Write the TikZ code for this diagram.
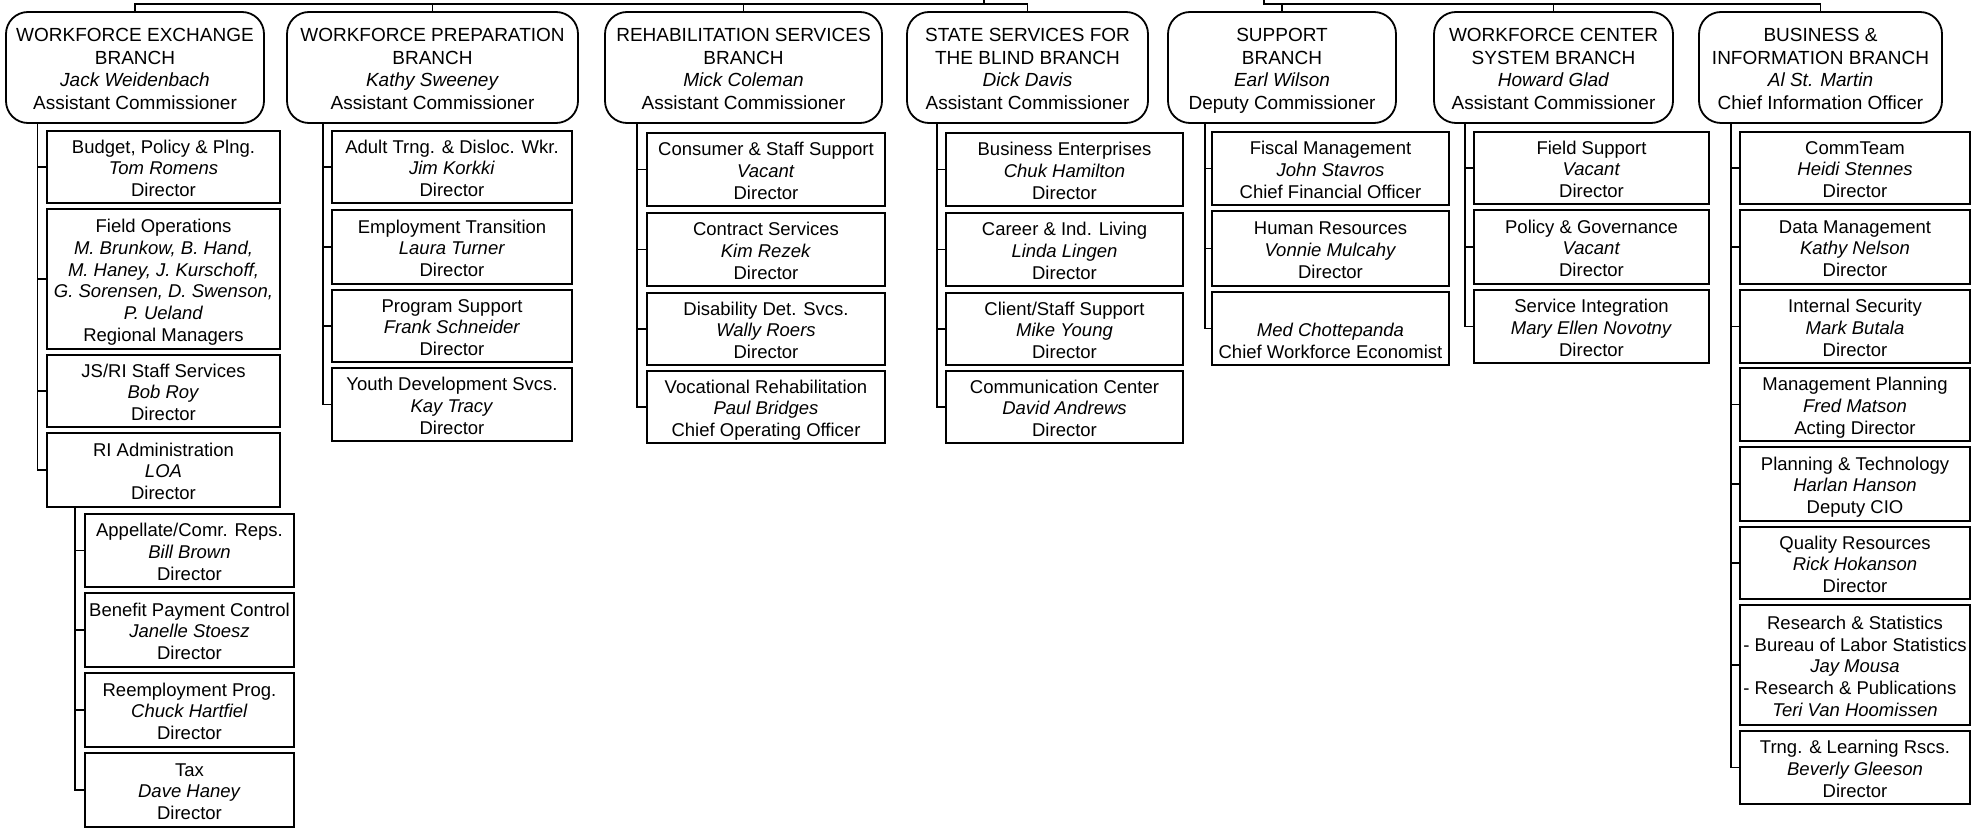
\documentclass[tikz,border=0pt]{standalone}
\usepackage{fontspec}
\setmainfont{Liberation Sans}
\usetikzlibrary{calc}
\tikzset{
  conn/.style={line width=1.7pt},
  branchbox/.style={draw, line width=1.8pt, rounded corners=22pt, align=center, inner sep=0pt,
    font=\fontsize{19}{22.5}\selectfont},
  unitbox/.style={draw, line width=1.7pt, align=center, inner sep=0pt,
    font=\fontsize{18.5}{21.8}\selectfont},
}
\newcommand\UnitBox[6]{\node[unitbox, minimum width={(#4-#2)*1pt}, minimum height={(#5-#3)*1pt}] (#1) at ({(#2+#4)/2},{(#3+#5)/2}) {\rule{0pt}{22.5pt}#6\strut};}
\newcommand\BranchBox[6]{\node[branchbox, minimum width={(#4-#2)*1pt}, minimum height={(#5-#3)*1pt}] (#1) at ({(#2+#4)/2},{(#3+#5)/2}) {\rule{0pt}{22.5pt}#6\strut};}
\begin{document}
\begin{tikzpicture}[x=1pt,y=-1pt]
\fill[white] (0,0) rectangle (1972,829);
\useasboundingbox (0,0) rectangle (1972,829);

% ---------- branch boxes ----------
\BranchBox{we}{6}{12}{264}{123}{WORKFORCE EXCHANGE\\BRANCH\\\textit{Jack Weidenbach}\\Assistant Commissioner}
\BranchBox{wp}{287}{12}{578}{123}{WORKFORCE PREPARATION\\BRANCH\\\textit{Kathy Sweeney}\\Assistant Commissioner}
\BranchBox{rehab}{605}{12}{882}{123}{REHABILITATION SERVICES\\BRANCH\\\textit{Mick Coleman}\\Assistant Commissioner}
\BranchBox{blind}{907}{12}{1148}{123}{STATE SERVICES FOR\\THE BLIND BRANCH\\\textit{Dick Davis}\\Assistant Commissioner}
\BranchBox{support}{1168}{12}{1396}{123}{SUPPORT\\BRANCH\\\textit{Earl Wilson}\\Deputy Commissioner}
\BranchBox{wfc}{1434}{12}{1673}{123}{WORKFORCE CENTER\\SYSTEM BRANCH\\\textit{Howard Glad}\\Assistant Commissioner}
\BranchBox{bi}{1699}{12}{1942}{123}{BUSINESS \&\\INFORMATION BRANCH\\\textit{Al St. Martin}\\Chief Information Officer}

% ---------- top connectors ----------
\coordinate (hL) at (0,4);
\coordinate (upL) at (984,0);
\coordinate (upR) at (1264,0);
\draw[conn] (we.north) -- (we.north |- hL) -- (blind.north |- hL) -- (blind.north);
\draw[conn] (wp.north) -- (wp.north |- hL);
\draw[conn] (rehab.north) -- (rehab.north |- hL);
\draw[conn] (upL) -- (upL |- hL);
\draw[conn] (upR) -- (upR |- hL) -- (bi.north |- hL) -- (bi.north);
\draw[conn] (support.north) -- (support.north |- hL);
\draw[conn] (wfc.north) -- (wfc.north |- hL);

% ---------- Workforce Exchange ----------
\UnitBox{bud}{47}{131}{280}{203}{Budget, Policy \& Plng.\\\textit{Tom Romens}\\Director}
\UnitBox{fo}{47}{209}{280}{349}{Field Operations\\\textit{M. Brunkow, B. Hand,}\\\textit{M. Haney, J. Kurschoff,}\\\textit{G. Sorensen, D. Swenson,}\\\textit{P. Ueland}\\Regional Managers}
\UnitBox{js}{47}{355}{280}{427}{JS/RI Staff Services\\\textit{Bob Roy}\\Director}
\UnitBox{ri}{47}{433}{280}{507}{RI Administration\\\textit{LOA}\\Director}
\UnitBox{app}{85}{514}{294}{587}{Appellate/Comr. Reps.\\\textit{Bill Brown}\\Director}
\UnitBox{ben}{85}{593}{294}{667}{Benefit Payment Control\\\textit{Janelle Stoesz}\\Director}
\UnitBox{ree}{85}{673}{294}{747}{Reemployment Prog.\\\textit{Chuck Hartfiel}\\Director}
\UnitBox{tax}{85}{753}{294}{827}{Tax\\\textit{Dave Haney}\\Director}
\coordinate (weT) at (37.5,0);
\draw[conn] (we.south -| weT) |- (ri.west);
\foreach \n in {bud,fo,js} \draw[conn] (\n.west -| weT) -- (\n.west);
\coordinate (riT) at (75,0);
\draw[conn] (ri.south -| riT) |- (tax.west);
\foreach \n in {app,ben,ree} \draw[conn] (\n.west -| riT) -- (\n.west);

% ---------- Workforce Preparation ----------
\UnitBox{adult}{332}{131}{572}{203}{Adult Trng. \& Disloc. Wkr.\\\textit{Jim Korkki}\\Director}
\UnitBox{emp}{332}{210}{572}{284}{Employment Transition\\\textit{Laura Turner}\\Director}
\UnitBox{prog}{332}{290}{572}{362}{Program Support\\\textit{Frank Schneider}\\Director}
\UnitBox{youth}{332}{368}{572}{441}{Youth Development Svcs.\\\textit{Kay Tracy}\\Director}
\coordinate (wpT) at (323,0);
\draw[conn] (wp.south -| wpT) |- (youth.west);
\foreach \n in {adult,emp,prog} \draw[conn] (\n.west -| wpT) -- (\n.west);

% ---------- Rehabilitation ----------
\UnitBox{cons}{647}{133}{885}{206}{Consumer \& Staff Support\\\textit{Vacant}\\Director}
\UnitBox{contr}{647}{213}{885}{286}{Contract Services\\\textit{Kim Rezek}\\Director}
\UnitBox{dis}{647}{293}{885}{365}{Disability Det. Svcs.\\\textit{Wally Roers}\\Director}
\UnitBox{voc}{647}{371}{885}{443}{Vocational Rehabilitation\\\textit{Paul Bridges}\\Chief Operating Officer}
\coordinate (rhT) at (637,0);
\draw[conn] (rehab.south -| rhT) |- (voc.west);
\foreach \n in {cons,contr,dis} \draw[conn] (\n.west -| rhT) -- (\n.west);

% ---------- State Services for the Blind ----------
\UnitBox{bus}{946}{133}{1183}{206}{Business Enterprises\\\textit{Chuk Hamilton}\\Director}
\UnitBox{car}{946}{213}{1183}{286}{Career \& Ind. Living\\\textit{Linda Lingen}\\Director}
\UnitBox{cli}{946}{293}{1183}{365}{Client/Staff Support\\\textit{Mike Young}\\Director}
\UnitBox{com}{946}{371}{1183}{443}{Communication Center\\\textit{David Andrews}\\Director}
\coordinate (blT) at (937,0);
\draw[conn] (blind.south -| blT) |- (com.west);
\foreach \n in {bus,car,cli} \draw[conn] (\n.west -| blT) -- (\n.west);

% ---------- Support ----------
\UnitBox{fis}{1212}{132}{1449}{205}{Fiscal Management\\\textit{John Stavros}\\Chief Financial Officer}
\UnitBox{hum}{1212}{211}{1449}{286}{Human Resources\\\textit{Vonnie Mulcahy}\\Director}
\UnitBox{med}{1212}{292}{1449}{365}{\mbox{}\\\textit{Med Chottepanda}\\Chief Workforce Economist}
\coordinate (spT) at (1205,0);
\draw[conn] (support.south -| spT) |- (med.west);
\foreach \n in {fis,hum} \draw[conn] (\n.west -| spT) -- (\n.west);

% ---------- Workforce Center System ----------
\UnitBox{fsup}{1474}{132}{1709}{204}{Field Support\\\textit{Vacant}\\Director}
\UnitBox{pol}{1474}{210}{1709}{284}{Policy \& Governance\\\textit{Vacant}\\Director}
\UnitBox{serv}{1474}{290}{1709}{363}{Service Integration\\\textit{Mary Ellen Novotny}\\Director}
\coordinate (wcT) at (1465,0);
\draw[conn] (wfc.south -| wcT) |- (serv.west);
\foreach \n in {fsup,pol} \draw[conn] (\n.west -| wcT) -- (\n.west);

% ---------- Business & Information ----------
\UnitBox{ct}{1740}{132}{1970}{204}{CommTeam\\\textit{Heidi Stennes}\\Director}
\UnitBox{dm}{1740}{210}{1970}{284}{Data Management\\\textit{Kathy Nelson}\\Director}
\UnitBox{is}{1740}{290}{1970}{363}{Internal Security\\\textit{Mark Butala}\\Director}
\UnitBox{mp}{1740}{368}{1970}{441}{Management Planning\\\textit{Fred Matson}\\Acting Director}
\UnitBox{pt}{1740}{447}{1970}{521}{Planning \& Technology\\\textit{Harlan Hanson}\\Deputy CIO}
\UnitBox{qr}{1740}{527}{1970}{599}{Quality Resources\\\textit{Rick Hokanson}\\Director}
\UnitBox{rs}{1740}{605}{1970}{725}{Research \& Statistics\\- Bureau of Labor Statistics\\\textit{Jay Mousa}\\\rlap{- Research \& Publications}\phantom{- Bureau of Labor Statistics}\\\textit{Teri Van Hoomissen}}
\UnitBox{tl}{1740}{731}{1970}{804}{Trng. \& Learning Rscs.\\\textit{Beverly Gleeson}\\Director}
\coordinate (biT) at (1731,0);
\draw[conn] (bi.south -| biT) |- (tl.west);
\foreach \n in {ct,dm,is,mp,pt,qr,rs} \draw[conn] (\n.west -| biT) -- (\n.west);
\end{tikzpicture}
\end{document}
